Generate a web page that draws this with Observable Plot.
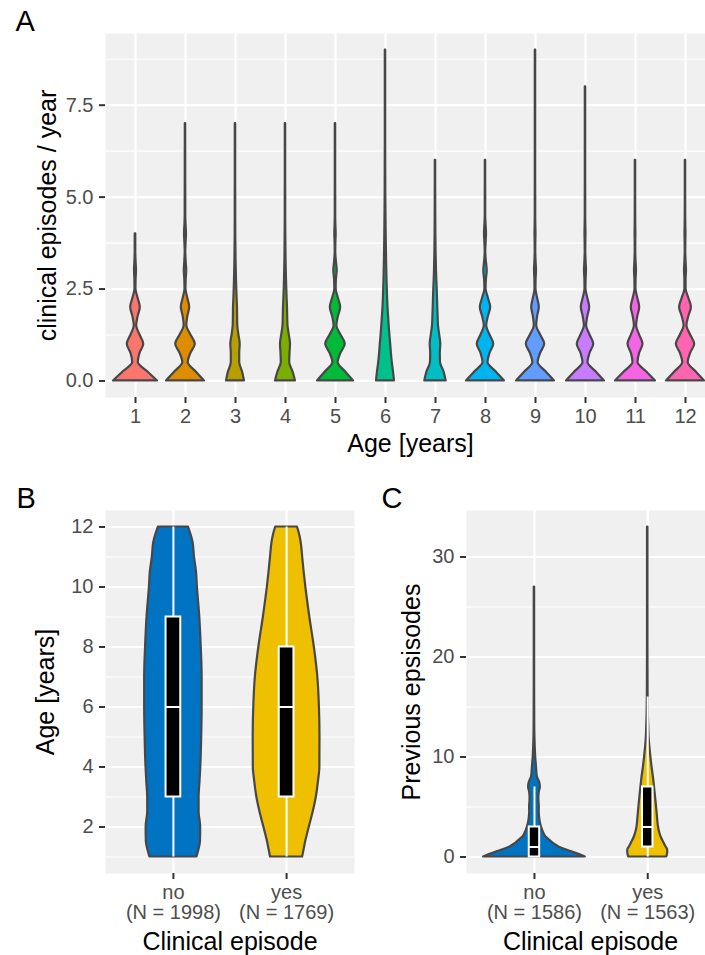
<!DOCTYPE html>
<html>
<head>
<meta charset="utf-8">
<script src="https://cdn.jsdelivr.net/npm/d3@7"></script>
<script src="https://cdn.jsdelivr.net/npm/@observablehq/plot@0.6"></script>
<style>
html, body { margin: 0; padding: 0; background: #ffffff; overflow: hidden; }
#fig { position: relative; width: 705px; height: 955px; }
#fig > div { position: absolute; }
</style>
</head>
<body>
<div id="fig">
  <div id="pa" style="left:0px;top:0px"></div>
  <div id="pb" style="left:0px;top:470px"></div>
  <div id="pc" style="left:360px;top:470px"></div>
</div>
<script>
// ---------------- Panel A data ----------------
const ages = [1, 2, 3, 4, 5, 6, 7, 8, 9, 10, 11, 12];
const ageColors = ["#F8766D", "#DE8C00", "#B79F00", "#7CAE00", "#00BA38", "#00C08B",
                   "#00BFC4", "#00B4F0", "#619CFF", "#C77CFF", "#F564E3", "#FF64B0"];
// clinical episodes / year at which the violin half-widths were read
const rateGrid = [0, 0.25, 0.5, 0.75, 1, 1.25, 1.5, 1.75, 2, 2.25, 2.5, 2.75, 3, 3.25, 3.5, 3.75,
                  4, 4.25, 4.5, 5, 5.5, 6, 6.5, 7, 7.5, 8, 8.5, 9];
// violin half-widths (in x units) per age
const widthAge1  = [0.44, 0.244, 0.056, 0.09, 0.165, 0.09, 0.024, 0.052, 0.096, 0.052, 0.01, 0.012, 0.02, 0.012, 0.006, 0.006, 0.006];
const widthAge2  = [0.38, 0.21, 0.054, 0.108, 0.196, 0.108, 0.026, 0.046, 0.084, 0.046, 0.01, 0.014, 0.024, 0.014, 0.006, 0.012, 0.02, 0.012, 0.006, 0.006, 0.005, 0.005, 0.004, 0.004];
const widthAge3  = [0.18, 0.14, 0.084, 0.084, 0.094, 0.068, 0.046, 0.042, 0.04, 0.032, 0.026, 0.02, 0.016, 0.012, 0.01, 0.008, 0.006, 0.006, 0.005, 0.005, 0.004, 0.004, 0.004, 0.004];
const widthAge4  = [0.2, 0.15, 0.084, 0.09, 0.1, 0.076, 0.05, 0.044, 0.04, 0.032, 0.026, 0.02, 0.016, 0.012, 0.01, 0.008, 0.007, 0.006, 0.005, 0.005, 0.004, 0.004, 0.004, 0.004];
const widthAge5  = [0.36, 0.2, 0.052, 0.108, 0.196, 0.108, 0.028, 0.058, 0.104, 0.058, 0.014, 0.018, 0.034, 0.018, 0.006, 0.008, 0.014, 0.008, 0.005, 0.005, 0.004, 0.004, 0.004, 0.004];
const widthAge6  = [0.18, 0.16, 0.136, 0.118, 0.104, 0.088, 0.074, 0.062, 0.05, 0.042, 0.036, 0.03, 0.026, 0.022, 0.019, 0.016, 0.014, 0.012, 0.01, 0.007, 0.006, 0.005, 0.004, 0.004, 0.004, 0.004, 0.004, 0.004];
const widthAge7  = [0.214, 0.17, 0.1, 0.096, 0.106, 0.084, 0.06, 0.052, 0.046, 0.04, 0.034, 0.026, 0.02, 0.016, 0.012, 0.01, 0.008, 0.007, 0.006, 0.005, 0.004, 0.004];
const widthAge8  = [0.38, 0.21, 0.05, 0.09, 0.165, 0.09, 0.024, 0.058, 0.104, 0.058, 0.012, 0.018, 0.034, 0.018, 0.006, 0.012, 0.02, 0.012, 0.005, 0.005, 0.004, 0.004];
const widthAge9  = [0.38, 0.21, 0.052, 0.102, 0.184, 0.102, 0.024, 0.042, 0.076, 0.042, 0.01, 0.012, 0.02, 0.012, 0.006, 0.007, 0.01, 0.007, 0.005, 0.005, 0.004, 0.004, 0.004, 0.004, 0.004, 0.004, 0.004, 0.004];
const widthAge10 = [0.38, 0.21, 0.05, 0.09, 0.165, 0.09, 0.022, 0.046, 0.084, 0.046, 0.01, 0.012, 0.02, 0.012, 0.006, 0.007, 0.01, 0.007, 0.005, 0.005, 0.004, 0.004, 0.004, 0.004, 0.004, 0.004];
const widthAge11 = [0.4, 0.22, 0.05, 0.082, 0.15, 0.082, 0.022, 0.046, 0.084, 0.046, 0.01, 0.012, 0.02, 0.012, 0.006, 0.006, 0.008, 0.006, 0.005, 0.004, 0.004, 0.004];
const widthAge12 = [0.38, 0.21, 0.054, 0.102, 0.184, 0.102, 0.028, 0.066, 0.118, 0.066, 0.012, 0.012, 0.02, 0.012, 0.006, 0.007, 0.01, 0.007, 0.005, 0.004, 0.004, 0.004];
const widthsByAge = [widthAge1, widthAge2, widthAge3, widthAge4, widthAge5, widthAge6,
                     widthAge7, widthAge8, widthAge9, widthAge10, widthAge11, widthAge12];
const rateTicks = [0, 2.5, 5, 7.5];
const rateMinorTicks = [1.25, 3.75, 6.25, 8.75];

// ---------------- Panel B data ----------------
const groups = ["no", "yes"];
const groupColors = ["#0073C2", "#EFC000"];
const groupLabelsB = ["no\n(N = 1998)", "yes\n(N = 1769)"];
const ageGrid = [1, 1.25, 1.5, 2, 2.5, 3, 3.5, 4, 5, 6, 7, 8, 9, 10, 10.5, 11, 11.5, 11.75, 12];
const ageWidthNo  = [0.208, 0.226, 0.239, 0.241, 0.227, 0.227, 0.235, 0.242, 0.25, 0.254, 0.254, 0.246, 0.233, 0.212, 0.204, 0.186, 0.173, 0.155, 0.133];
const ageWidthYes = [0.142, 0.155, 0.168, 0.201, 0.235, 0.263, 0.281, 0.294, 0.295, 0.29, 0.276, 0.245, 0.205, 0.17, 0.155, 0.142, 0.128, 0.115, 0.096];
const ageQ1 = [3, 3], ageMedian = [6, 6], ageQ3 = [9, 8], ageLow = [1, 1], ageHigh = [12, 12];
const ageTicks = [2, 4, 6, 8, 10, 12];
const ageMinorTicks = [1, 3, 5, 7, 9, 11];

// ---------------- Panel C data ----------------
const groupLabelsC = ["no\n(N = 1586)", "yes\n(N = 1563)"];
const prevGridNo  = [0, 0.1, 0.25, 0.5, 0.75, 1, 1.25, 1.5, 1.75, 2, 2.5, 3, 3.5, 4, 4.5, 5, 5.5, 6, 6.5, 7,
                     7.5, 8, 8.5, 9, 10, 11, 12, 13, 14, 16, 18, 20, 22, 24, 27];
const prevWidthNo = [0.449, 0.429, 0.398, 0.336, 0.27, 0.215, 0.181, 0.153, 0.128, 0.102, 0.078, 0.062, 0.051, 0.045, 0.042, 0.043, 0.04, 0.039, 0.043, 0.052,
                     0.045, 0.026, 0.021, 0.018, 0.011, 0.007, 0.0044, 0.003, 0.0027, 0.0022, 0.0018, 0.0018, 0.0018, 0.0018, 0.0018];
const prevGridYes  = [0, 0.25, 0.5, 0.75, 1, 1.5, 2, 2.5, 3, 4, 5, 6, 7, 8, 9, 10, 11, 12, 13, 14, 15, 16, 18, 20, 24, 28, 33];
const prevWidthYes = [0.168, 0.174, 0.177, 0.175, 0.162, 0.139, 0.118, 0.104, 0.095, 0.086, 0.078, 0.069, 0.06, 0.05, 0.038, 0.028, 0.019, 0.012, 0.009, 0.006, 0.0044, 0.0035, 0.0027, 0.0022, 0.0018, 0.0018, 0.0018];
const prevQ1 = [0, 1], prevMedian = [1, 3], prevQ3 = [3, 7], prevLow = [0, 0], prevHigh = [7, 16];
const prevTicks = [0, 10, 20, 30];
const prevMinorTicks = [5, 15, 25];

// ---------------- styling ----------------
const FONT = '"Liberation Sans", Arial, Helvetica, sans-serif';
const PANEL_BG = "#f0f0f0";
const OUTLINE = "#474747";
const TICK_COLOR = "#333333";
const TICK_TEXT = "#4d4d4d";

function violinRows(pos, key, grid, widths) {
  return widths.map((w, i) => ({key, y: grid[i], x1: pos - w, x2: pos + w}));
}
function boxRows(q1, med, q3, lo, hi, half) {
  return groups.map((g, i) => ({key: g, pos: i + 1, x1: i + 1 - half, x2: i + 1 + half,
    q1: q1[i], median: med[i], q3: q3[i], lo: lo[i], hi: hi[i]}));
}
function background(xTicks, yTicks, yMinor) {
  return [
    Plot.frame({fill: PANEL_BG, stroke: "none"}),
    Plot.gridY({ticks: yMinor, stroke: "white", strokeOpacity: 1, strokeWidth: 1.1}),
    Plot.gridY({ticks: yTicks, stroke: "white", strokeOpacity: 1, strokeWidth: 2.2}),
    Plot.gridX({ticks: xTicks, stroke: "white", strokeOpacity: 1, strokeWidth: 2.2})
  ];
}
function axes(xTicks, xFormat, yTicks, yFormat) {
  return [
    Plot.axisY({ticks: yTicks, tickFormat: yFormat, tickSize: 6, tickPadding: 6, label: null,
      stroke: TICK_COLOR, strokeWidth: 2, fill: TICK_TEXT}),
    Plot.axisX({ticks: xTicks, tickFormat: xFormat, tickSize: 6, tickPadding: 5, label: null,
      stroke: TICK_COLOR, strokeWidth: 2, fill: TICK_TEXT})
  ];
}
function titles(letter, letterDx, yTitle, yDx, xTitle, xDx, xDy) {
  return [
    Plot.text([letter], {frameAnchor: "top-left", textAnchor: "start", lineAnchor: "bottom",
      dx: letterDx, dy: -3, fontSize: 29, fill: "black"}),
    Plot.text([yTitle], {frameAnchor: "left", rotate: -90, textAnchor: "middle", lineAnchor: "middle",
      dx: yDx, fontSize: 25, fill: "black"}),
    Plot.text([xTitle], {frameAnchor: "bottom", textAnchor: "middle", lineAnchor: "middle",
      dx: xDx, dy: xDy, fontSize: 25, fill: "black"})
  ];
}
const svgStyle = {fontFamily: FONT, fontSize: "20px", background: "white", overflow: "visible"};

// ---------------- Panel A ----------------
const rowsA = ages.flatMap((a, i) => violinRows(a, String(a), rateGrid, widthsByAge[i]));
const plotA = Plot.plot({
  width: 705, height: 460,
  marginLeft: 105, marginRight: 0, marginTop: 33, marginBottom: 63,
  style: svgStyle,
  x: {domain: [0.4, 12.4]},
  y: {domain: [-0.45, 9.45]},
  color: {type: "ordinal", domain: ages.map(String), range: ageColors},
  marks: [
    ...background(ages, rateTicks, rateMinorTicks),
    Plot.areaX(rowsA, {y: "y", x1: "x1", x2: "x2", z: "key", fill: "key",
      stroke: OUTLINE, strokeWidth: 2.2, strokeLinejoin: "round", curve: "monotone-y"}),
    ...axes(ages, d => String(d), rateTicks, d3.format(".1f")),
    ...titles("A", -90, "clinical episodes / year", -58, "Age [years]", 5, 46)
  ]
});
document.getElementById("pa").appendChild(plotA);

// ---------------- Panel B ----------------
const rowsB = [
  ...violinRows(1, "no", ageGrid, ageWidthNo),
  ...violinRows(2, "yes", ageGrid, ageWidthYes)
];
const boxB = boxRows(ageQ1, ageMedian, ageQ3, ageLow, ageHigh, 0.065);
const plotB = Plot.plot({
  width: 360, height: 485,
  marginLeft: 105, marginRight: 6, marginTop: 40, marginBottom: 82,
  style: svgStyle,
  x: {domain: [0.4, 2.6]},
  y: {domain: [0.45, 12.55]},
  color: {type: "ordinal", domain: groups, range: groupColors},
  marks: [
    ...background([1, 2], ageTicks, ageMinorTicks),
    Plot.areaX(rowsB, {y: "y", x1: "x1", x2: "x2", z: "key", fill: "key",
      stroke: OUTLINE, strokeWidth: 2.2, strokeLinejoin: "round", curve: "monotone-y"}),
    Plot.ruleX(boxB, {x: "pos", y1: "lo", y2: "hi", stroke: "white", strokeWidth: 2}),
    Plot.rect(boxB, {x1: "x1", x2: "x2", y1: "q1", y2: "q3", fill: "black", stroke: "white", strokeWidth: 2}),
    Plot.ruleY(boxB, {y: "median", x1: "x1", x2: "x2", stroke: "white", strokeWidth: 2}),
    ...axes([1, 2], d => groupLabelsB[d - 1], ageTicks, d => String(d)),
    ...titles("B", -89, "Age [years]", -60, "Clinical episode", 0, 68)
  ]
});
document.getElementById("pb").appendChild(plotB);

// ---------------- Panel C ----------------
const rowsC = [
  ...violinRows(1, "no", prevGridNo, prevWidthNo),
  ...violinRows(2, "yes", prevGridYes, prevWidthYes)
];
const boxC = boxRows(prevQ1, prevMedian, prevQ3, prevLow, prevHigh, 0.046);
const plotC = Plot.plot({
  width: 345, height: 485,
  marginLeft: 106, marginRight: 0, marginTop: 40, marginBottom: 82,
  style: svgStyle,
  x: {domain: [0.4, 2.51]},
  y: {domain: [-1.65, 34.65]},
  color: {type: "ordinal", domain: groups, range: groupColors},
  marks: [
    ...background([1, 2], prevTicks, prevMinorTicks),
    Plot.areaX(rowsC, {y: "y", x1: "x1", x2: "x2", z: "key", fill: "key",
      stroke: OUTLINE, strokeWidth: 2.2, strokeLinejoin: "round", curve: "monotone-y"}),
    Plot.ruleX(boxC, {x: "pos", y1: "lo", y2: "hi", stroke: "white", strokeWidth: 2}),
    Plot.rect(boxC, {x1: "x1", x2: "x2", y1: "q1", y2: "q3", fill: "black", stroke: "white", strokeWidth: 2}),
    Plot.ruleY(boxC, {y: "median", x1: "x1", x2: "x2", stroke: "white", strokeWidth: 2}),
    ...axes([1, 2], d => groupLabelsC[d - 1], prevTicks, d => String(d)),
    ...titles("C", -85, "Previous epsisodes", -55, "Clinical episode", 4.5, 68)
  ]
});
document.getElementById("pc").appendChild(plotC);
</script>
</body>
</html>
